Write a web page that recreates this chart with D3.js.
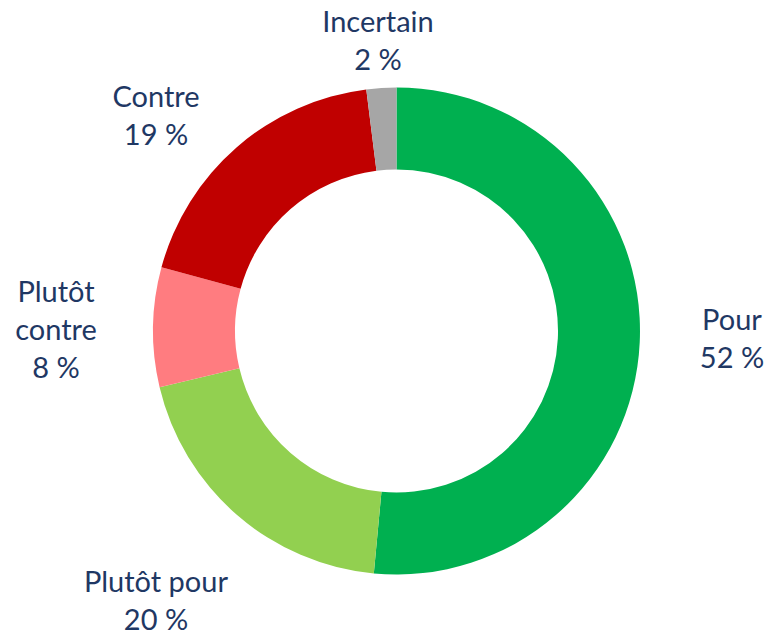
<!DOCTYPE html>
<html>
<head>
<meta charset="utf-8">
<script src="https://cdn.jsdelivr.net/npm/d3@7"></script>
<style>
  body { margin: 0; background: #fff; }
  svg { display: block; }
  .lbl { font-family: Lato, "Open Sans", sans-serif; font-size: 29px; fill: #1F3864; }
</style>
</head>
<body>
<div id="chart"></div>
<script>
const categories = ['Pour', 'Plutôt pour', 'Plutôt contre', 'Contre', 'Incertain'];
const values = [52, 20, 8, 19, 2];
const labelLines = [['Pour', '52 %'], ['Plutôt pour', '20 %'], ['Plutôt', 'contre', '8 %'], ['Contre', '19 %'], ['Incertain', '2 %']];
const colors = ['#00B050', '#92D050', '#FF7C80', '#C00000', '#A6A6A6'];

// label anchors (first baseline) — layout only
const labelAnchor = [[732, 330], [156, 592], [56, 302], [156, 107], [378, 32]];

const width = 765, height = 636;
const cx = 396.5, cy = 331;
const outerR = 243.5, innerR = 161.5;
const lineH = 38;

const svg = d3.select('#chart').append('svg')
  .attr('width', width)
  .attr('height', height);

const data = categories.map((c, i) => ({ cat: c, value: values[i], i }));

const pie = d3.pie().sort(null).value(d => d.value);
const arc = d3.arc().innerRadius(innerR).outerRadius(outerR);

const g = svg.append('g').attr('transform', `translate(${cx},${cy})`);

g.selectAll('path')
  .data(pie(data))
  .join('path')
  .attr('d', arc)
  .attr('fill', d => colors[d.data.i]);

svg.selectAll('text.lbl')
  .data(data)
  .join('text')
  .classed('lbl', true)
  .attr('text-anchor', 'middle')
  .each(function (d) {
    const [x, y] = labelAnchor[d.i];
    d3.select(this).selectAll('tspan')
      .data(labelLines[d.i])
      .join('tspan')
      .attr('x', x)
      .attr('y', (t, j) => y + j * lineH)
      .text(t => t);
  });
</script>
</body>
</html>
